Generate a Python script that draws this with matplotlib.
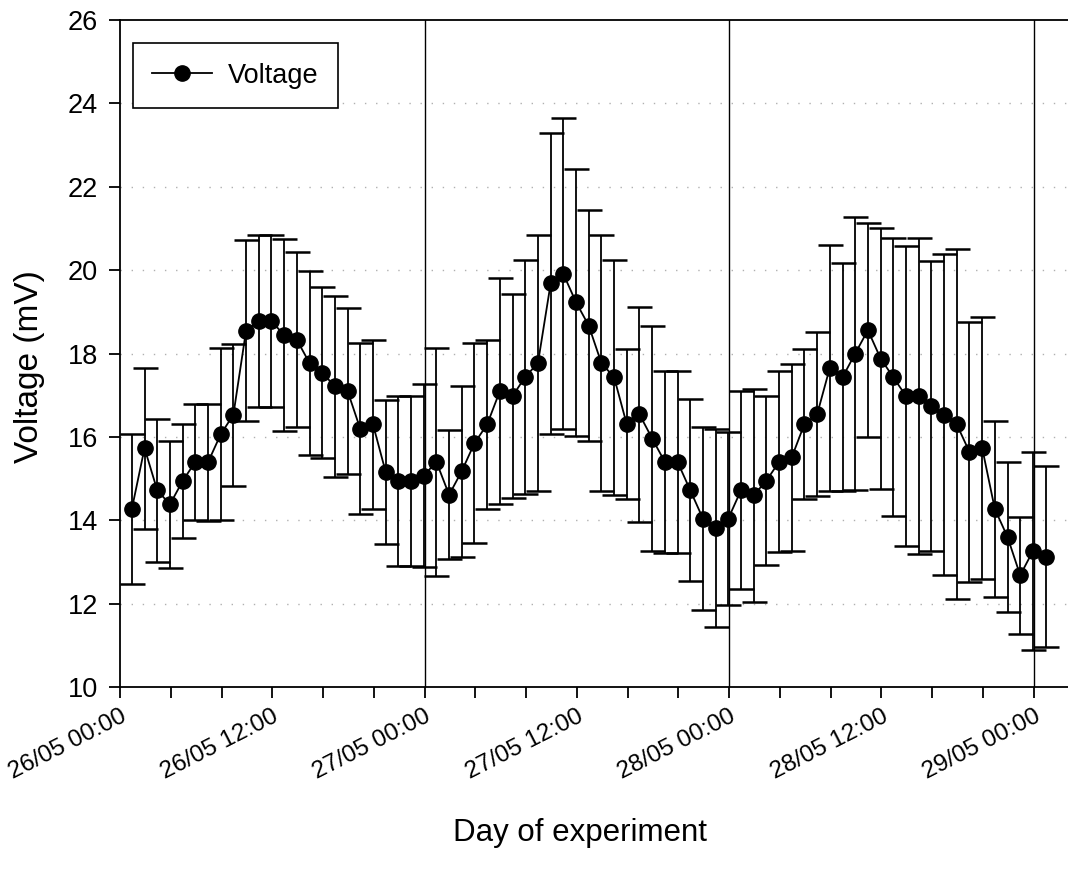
import numpy as np
import pandas as pd
import matplotlib
matplotlib.use("Agg")
import matplotlib.pyplot as plt
import matplotlib.dates as mdates
from matplotlib.lines import Line2D

plt.rcParams['font.family'] = ['Liberation Sans', 'DejaVu Sans']

# hourly readings, starting just before 01:00 on 26/05
times = pd.date_range("2021-05-26 00:56", periods=73, freq="h")

voltage = [
    14.27, 15.73, 14.72, 14.38, 14.94, 15.40, 15.39, 16.06, 16.53, 18.55, 18.78, 18.78,
    18.44, 18.33, 17.77, 17.54, 17.21, 17.10, 16.19, 16.30, 15.16, 14.94, 14.94, 15.07,
    15.40, 14.61, 15.18, 15.85, 16.30, 17.10, 16.98, 17.44, 17.77, 19.68, 19.91, 19.23,
    18.67, 17.77, 17.43, 16.30, 16.54, 15.96, 15.40, 15.40, 14.72, 14.04, 13.82, 14.04,
    14.72, 14.60, 14.95, 15.40, 15.51, 16.31, 16.54, 17.66, 17.43, 18.00, 18.56, 17.88,
    17.43, 16.98, 16.98, 16.75, 16.53, 16.30, 15.64, 15.74, 14.27, 13.60, 12.68, 13.26,
    13.13,
]

err = [
    1.79, 1.93, 1.71, 1.53, 1.36, 1.40, 1.40, 2.06, 1.70, 2.17, 2.07, 2.06,
    2.30, 2.10, 2.20, 2.05, 2.17, 2.00, 2.05, 2.03, 1.72, 2.04, 2.03, 2.20,
    2.74, 1.55, 2.05, 2.40, 2.03, 2.70, 2.44, 2.80, 3.07, 3.60, 3.73, 3.20,
    2.77, 3.07, 2.82, 1.80, 2.57, 2.69, 2.18, 2.18, 2.18, 2.20, 2.38, 2.07,
    2.37, 2.56, 2.03, 2.17, 2.25, 1.80, 1.97, 2.95, 2.74, 3.27, 2.57, 3.12,
    3.34, 3.59, 3.78, 3.48, 3.85, 4.20, 3.12, 3.14, 2.12, 1.80, 1.40, 2.38,
    2.18,
]

day_lines = pd.to_datetime(["2021-05-27", "2021-05-28", "2021-05-29"])

fig = plt.figure(figsize=(10.68, 8.85), dpi=100)
ax = fig.add_axes([120 / 1068, (885 - 687) / 885, 948 / 1068, 667 / 885])

ax.errorbar(times, voltage, yerr=err, fmt='-o', color='black', ecolor='black',
            elinewidth=1.3, capsize=9, capthick=1.8, lw=1.3, markersize=11,
            zorder=3)

for d in day_lines:
    ax.axvline(d, color='black', lw=1.0, zorder=1)

for yv in range(12, 25, 2):
    ax.axhline(yv, color='#b0b0b0', lw=1.0, ls=(0, (1, 7)), zorder=0)

ax.set_ylim(10, 26)
ax.set_yticks(range(10, 27, 2))
ax.set_xlim(pd.Timestamp("2021-05-26 00:00"), pd.Timestamp("2021-05-29 02:42"))

ax.xaxis.set_major_locator(mdates.HourLocator(byhour=[0, 12]))
ax.xaxis.set_minor_locator(mdates.HourLocator(byhour=[4, 8, 16, 20]))
ax.xaxis.set_major_formatter(mdates.DateFormatter('%d/%m %H:%M'))

ax.tick_params(axis='both', which='both', direction='out', length=8, width=1.3)
ax.tick_params(axis='y', labelsize=19.5, pad=8)
ax.tick_params(axis='x', labelsize=17.5, pad=5)
for lab in ax.get_xticklabels():
    lab.set_rotation(27)
    lab.set_ha('right')
    lab.set_rotation_mode('anchor')

ax.spines['right'].set_visible(False)
for s in ['left', 'bottom', 'top']:
    ax.spines[s].set_linewidth(1.3)

ax.set_ylabel('Voltage (mV)', fontsize=24)
ax.set_xlabel('Day of experiment', fontsize=22.5)
ax.yaxis.set_label_coords(-0.079, 0.481)
ax.xaxis.set_label_coords(0.485, -0.196)

handle = Line2D([], [], color='black', lw=1.3, marker='o', markersize=11)
leg = ax.legend([handle], ['Voltage'], loc='upper left',
                bbox_to_anchor=(0.0137, 0.9655), borderaxespad=0, fontsize=19.5,
                fancybox=False, framealpha=1, edgecolor='black', borderpad=0.72,
                handlelength=2.2, handletextpad=0.6)
leg.get_frame().set_linewidth(1.2)

fig.savefig('out.png', dpi=100)
